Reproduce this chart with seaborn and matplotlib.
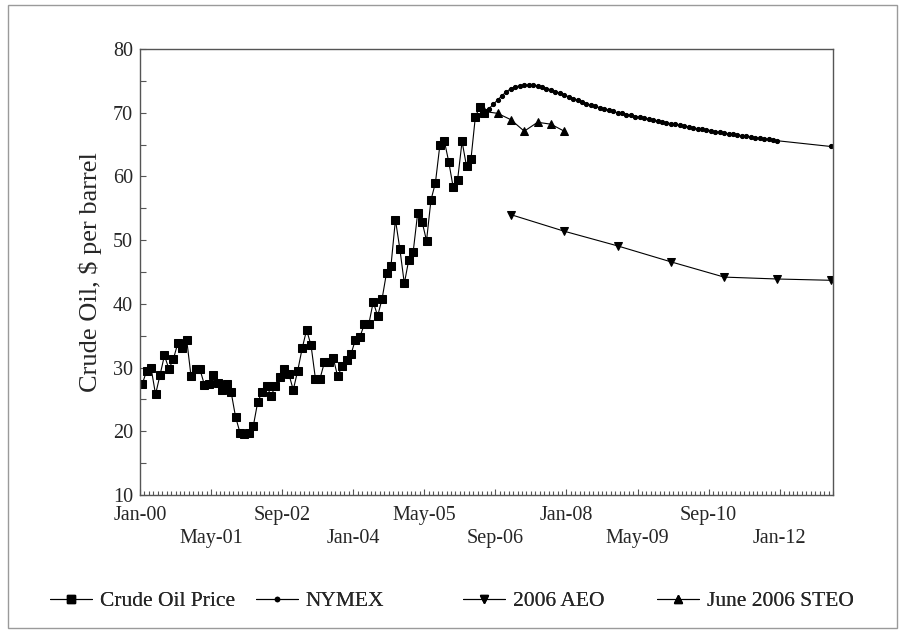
import numpy as np
import pandas as pd
import matplotlib
matplotlib.use("Agg")
import matplotlib.pyplot as plt
from matplotlib.lines import Line2D
from matplotlib.patches import Rectangle
from matplotlib.ticker import FixedLocator, MultipleLocator
import seaborn as sns

# ---- data -------------------------------------------------------------
# Monthly crude oil price, Jan-2000 .. Jun-2006 ($ per barrel)
crude_start = "2000-01"
crude_price = [27.4, 29.5, 29.9, 25.8, 28.8, 31.9, 29.8, 31.3, 33.8, 33.1, 34.4, 28.6,
               29.7, 29.7, 27.3, 27.5, 28.8, 27.6, 26.5, 27.4, 26.2, 22.3, 19.8, 19.5,
               19.8, 20.8, 24.6, 26.2, 27.1, 25.6, 27.1, 28.5, 29.7, 29.0, 26.5, 29.5,
               33.0, 35.9, 33.5, 28.2, 28.2, 30.8, 30.9, 31.5, 28.6, 30.3, 31.2, 32.1,
               34.4, 34.8, 36.8, 36.8, 40.3, 38.1, 40.8, 44.9, 46.0, 53.2, 48.6, 43.2,
               46.9, 48.2, 54.2, 52.9, 49.9, 56.3, 59.0, 64.9, 65.6, 62.3, 58.3, 59.5,
               65.5, 61.6, 62.7, 69.4, 70.9, 70.0]

# NYMEX futures: monthly Jul-2006 .. Dec-2011, then Dec-2012
nymex_dates = [str(p) for p in pd.period_range("2006-07", "2011-12", freq="M")] + ["2012-12"]
nymex_price = [70.6, 71.3, 72.0, 72.7, 73.3, 73.8,
               74.1, 74.2, 74.3, 74.3, 74.3, 74.2, 74.0, 73.8, 73.6, 73.3, 73.1, 72.8,
               72.5, 72.2, 72.0, 71.7, 71.4, 71.2, 71.0, 70.8, 70.6, 70.4, 70.2, 70.0,
               69.9, 69.7, 69.6, 69.4, 69.3, 69.1, 69.0, 68.8, 68.7, 68.6, 68.4, 68.3,
               68.2, 68.0, 67.9, 67.8, 67.6, 67.5, 67.4, 67.3, 67.2, 67.0, 66.9, 66.8,
               66.7, 66.6, 66.5, 66.4, 66.3, 66.2, 66.1, 66.0, 65.9, 65.8, 65.7, 65.6,
               64.7]

# 2006 Annual Energy Outlook (annual points)
aeo_dates = ["2006-12", "2007-12", "2008-12", "2009-12", "2010-12", "2011-12", "2012-12"]
aeo_price = [54.0, 51.4, 49.1, 46.6, 44.2, 43.9, 43.7]

# June 2006 Short-Term Energy Outlook (quarterly points)
steo_dates = ["2006-06", "2006-09", "2006-12", "2007-03", "2007-06", "2007-09", "2007-12"]
steo_price = [70.2, 69.9, 68.9, 67.1, 68.5, 68.2, 67.1]

tick_labels = ["Jan-00", "May-01", "Sep-02", "Jan-04", "May-05",
               "Sep-06", "Jan-08", "May-09", "Sep-10", "Jan-12"]
axis_end = "2012-12"


def month_index(s):
    p = pd.Period(s, freq="M")
    return (p.year - 2000) * 12 + (p.month - 1)


crude = pd.DataFrame({
    "month": [month_index(str(p)) for p in pd.period_range(crude_start, periods=len(crude_price), freq="M")],
    "price": crude_price})
nymex = pd.DataFrame({"month": [month_index(d) for d in nymex_dates], "price": nymex_price})
aeo = pd.DataFrame({"month": [month_index(d) for d in aeo_dates], "price": aeo_price})
steo = pd.DataFrame({"month": [month_index(d) for d in steo_dates], "price": steo_price})

# ---- style ------------------------------------------------------------
sns.set_style("ticks")
plt.rcParams["font.family"] = ["Liberation Serif", "DejaVu Serif"]
plt.rcParams["axes.edgecolor"] = "#555555"

fig = plt.figure(figsize=(9.06, 6.33), dpi=100)
fig.patches.append(Rectangle((8 / 906, 5 / 633), 889 / 906, 623 / 633,
                             transform=fig.transFigure, fill=False,
                             edgecolor="#9a9a9a", linewidth=1.0))
ax = fig.add_axes([140 / 906, 138 / 633, 693 / 906, 446 / 633])

line_kw = dict(color="black", linewidth=0.8, markeredgecolor="black",
               markerfacecolor="black", legend=False, ax=ax, sort=False)

sns.lineplot(data=steo, x="month", y="price", marker="^", markersize=5.5, **line_kw)
sns.lineplot(data=aeo, x="month", y="price", marker="v", markersize=6, **line_kw)
sns.lineplot(data=nymex, x="month", y="price", marker="o", markersize=3.0, **line_kw)
sns.lineplot(data=crude, x="month", y="price", marker="s", markersize=5.2, **line_kw)

# ---- axes -------------------------------------------------------------
n_months = month_index(axis_end) + 1
ax.set_xlim(-0.5, n_months - 0.5)
ax.set_ylim(10, 80)

label_pos = [month_index("20" + lab[-2:] + "-" +
                         {"Jan": "01", "May": "05", "Sep": "09"}[lab[:3]]) - 0.5
             for lab in tick_labels]
ax.xaxis.set_major_locator(FixedLocator(label_pos))
ax.set_xticklabels([lab if i % 2 == 0 else "\n" + lab for i, lab in enumerate(tick_labels)],
                   linespacing=1.3)
ax.xaxis.set_minor_locator(MultipleLocator(1, offset=0.5))
ax.yaxis.set_major_locator(MultipleLocator(10))
ax.yaxis.set_minor_locator(MultipleLocator(5))

ax.tick_params(axis="both", which="both", direction="in", color="#555555",
               labelsize=14.5, width=0.8)
ax.tick_params(axis="x", which="major", length=4, pad=8)
ax.tick_params(axis="x", which="minor", length=3)
ax.tick_params(axis="y", which="both", length=4, pad=5)

for sp in ax.spines.values():
    sp.set_linewidth(1.0)
    sp.set_color("#555555")

ax.set_xlabel("")
ax.set_ylabel("Crude Oil, $ per barrel", fontsize=19, labelpad=8)

# ---- legend -----------------------------------------------------------
entries = [("Crude Oil Price", "s", 5.2), ("NYMEX", "o", 3.0),
           ("2006 AEO", "v", 6), ("June 2006 STEO", "^", 5.5)]
anchors = [50, 256, 463, 657]
for (name, mk, ms), x0 in zip(entries, anchors):
    h = Line2D([], [], color="black", linewidth=0.8, marker=mk, markersize=ms,
               markerfacecolor="black", markeredgecolor="black")
    leg = fig.legend(handles=[h], labels=[name], loc="center left",
                     bbox_to_anchor=(x0 / 906, 1 - 601 / 633),
                     frameon=False, fontsize=15.5, handlelength=1.95,
                     handletextpad=0.35, borderpad=0, borderaxespad=0)
    fig.add_artist(leg)

fig.savefig("out.png", dpi=100)
